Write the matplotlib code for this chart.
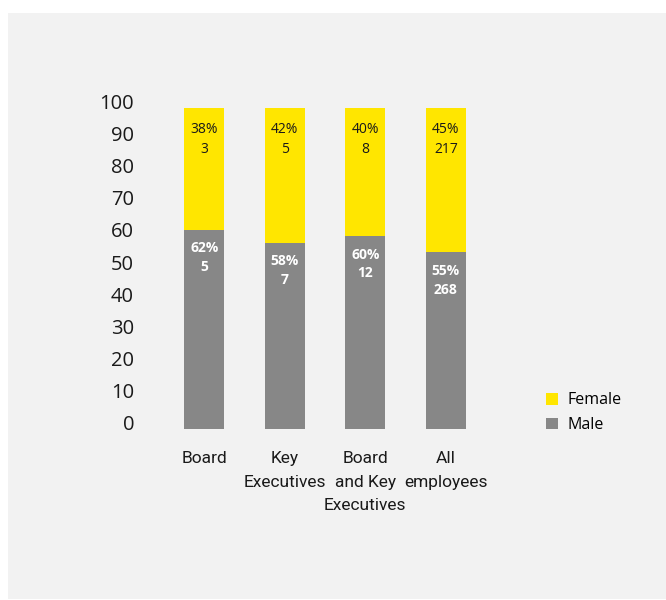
import matplotlib
matplotlib.use("Agg")
import matplotlib.pyplot as plt
from matplotlib.patches import Rectangle

# ================= DATA ================= #
categories = ["Board", "Key\nExecutives", "Board\nand Key\nExecutives", "All\nemployees"]
male_pct = [62, 58, 60, 55]
female_pct = [38, 42, 40, 45]
male_count = [5, 7, 12, 268]
female_count = [3, 5, 8, 217]
y_tick_values = [0, 10, 20, 30, 40, 50, 60, 70, 80, 90, 100]

# ================= THEME ================= #
YELLOW = "#ffe600"
GREY = "#878787"
BG = "#f2f2f2"
TEXT = "#1a1a1a"
FONT = ["Open Sans", "DejaVu Sans"]

plt.rcParams['font.family'] = FONT

W, H = 666, 600
fig = plt.figure(figsize=(W / 100, H / 100), dpi=100, facecolor="white")

# textured panel stand-in
fig.patches.append(Rectangle((8 / W, 1 / H), (W - 8) / W, (H - 14) / H,
                             transform=fig.transFigure, facecolor=BG,
                             edgecolor="none", zorder=-10))

# axes: x from 184px to 466px, y from 90px to 440px (top-origin)
ax = fig.add_axes([184 / W, (H - 440) / H, 282 / W, 350 / H])
ax.set_facecolor("none")
ax.set_xlim(-0.25, 3.25)
ax.set_ylim((429 - 440) / 3.21, (429 - 90) / 3.21)

x = range(len(categories))
bars_m = ax.bar(x, male_pct, width=0.5, color=GREY, label="Male")
bars_f = ax.bar(x, female_pct, width=0.5, bottom=male_pct, color=YELLOW, label="Female")

# labels inside the segments
for i in x:
    ax.annotate(f"{female_pct[i]}%\n{female_count[i]}", (i, 100),
                xytext=(0, -10), textcoords="offset points",
                ha="center", va="top", fontsize=10, color=TEXT,
                linespacing=1.45)
    ax.annotate(f"{male_pct[i]}%\n{male_count[i]}", (i, male_pct[i]),
                xytext=(0, -8), textcoords="offset points",
                ha="center", va="top", fontsize=10, color="white",
                fontweight="bold", linespacing=1.45)

# y ticks sit slightly above the bar scale, as in the source graphic
ax.set_yticks([1.87 + 1.003 * v for v in y_tick_values])
ax.set_yticklabels([str(v) for v in y_tick_values])
ax.tick_params(axis="y", length=0, pad=36, labelsize=14.5, labelcolor=TEXT)

ax.set_xticks(list(x))
ax.set_xticklabels(categories, linespacing=1.7, family=["Roboto", "DejaVu Sans"])
ax.tick_params(axis="x", length=0, pad=8, labelsize=12.5, labelcolor=TEXT)

for s in ax.spines.values():
    s.set_visible(False)

ax.legend(handles=[bars_f, bars_m], labels=["Female", "Male"],
          loc="upper left", bbox_to_anchor=(532 / W, (H - 378) / H),
          bbox_transform=fig.transFigure, frameon=False,
          handlelength=0.75, handleheight=0.75, handletextpad=0.6,
          labelspacing=0.55, fontsize=11.5)

fig.savefig("out.png", dpi=100, facecolor="white")
